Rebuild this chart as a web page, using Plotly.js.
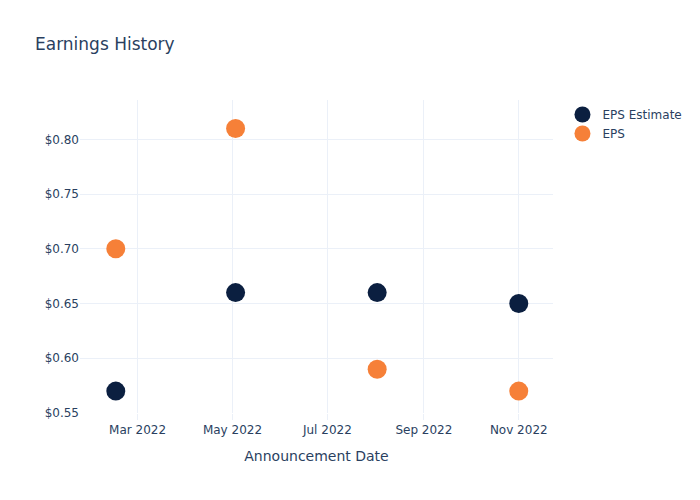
<!DOCTYPE html>
<html>
<head>
<meta charset="utf-8">
<script src="https://cdn.plot.ly/plotly-3.0.1.min.js"></script>
<style>html,body{margin:0;padding:0;background:#fff;}#chart{width:700px;height:500px;}</style>
</head>
<body>
<div id="chart"></div>
<script>
const dates = ["2022-02-15", "2022-05-03", "2022-08-02", "2022-11-01"];
const epsEstimate = [0.57, 0.66, 0.66, 0.65];
const epsActual = [0.70, 0.81, 0.59, 0.57];

const traces = [
  {x: dates, y: epsEstimate, name: "EPS Estimate", type: "scatter", mode: "markers",
   marker: {color: "#0B1F40", size: 19}},
  {x: dates, y: epsActual, name: "EPS", type: "scatter", mode: "markers",
   marker: {color: "#F68038", size: 19}}
];

const layout = {
  width: 700, height: 500,
  margin: {l: 80, r: 147, t: 100, b: 87},
  paper_bgcolor: "#fff", plot_bgcolor: "#fff",
  font: {family: "'DejaVu Sans', Verdana, sans-serif", color: "#2a3f5f", size: 12},
  title: {text: "Earnings History", x: 0.05, xanchor: "left", font: {size: 17, color: "#2a3f5f"}},
  xaxis: {
    title: {text: "Announcement Date", font: {size: 14}, standoff: 14},
    automargin: true,
    type: "date", range: ["2022-01-23", "2022-11-23"],
    dtick: "M2", tick0: "2022-01-01", tickformat: "%b %Y",
    gridcolor: "#EBF0F8", showline: false, zeroline: false,
    ticks: "outside", ticklen: 6, tickcolor: "#EBF0F8", tickwidth: 1
  },
  yaxis: {
    range: [0.55, 0.836], dtick: 0.05, tick0: 0.55,
    tickprefix: "$", tickformat: ".2f",
    gridcolor: "#EBF0F8", zeroline: false, showline: false, ticks: ""
  },
  legend: {font: {size: 12}},
  showlegend: true
};

Plotly.newPlot("chart", traces, layout, {displayModeBar: false});
</script>
</body>
</html>
